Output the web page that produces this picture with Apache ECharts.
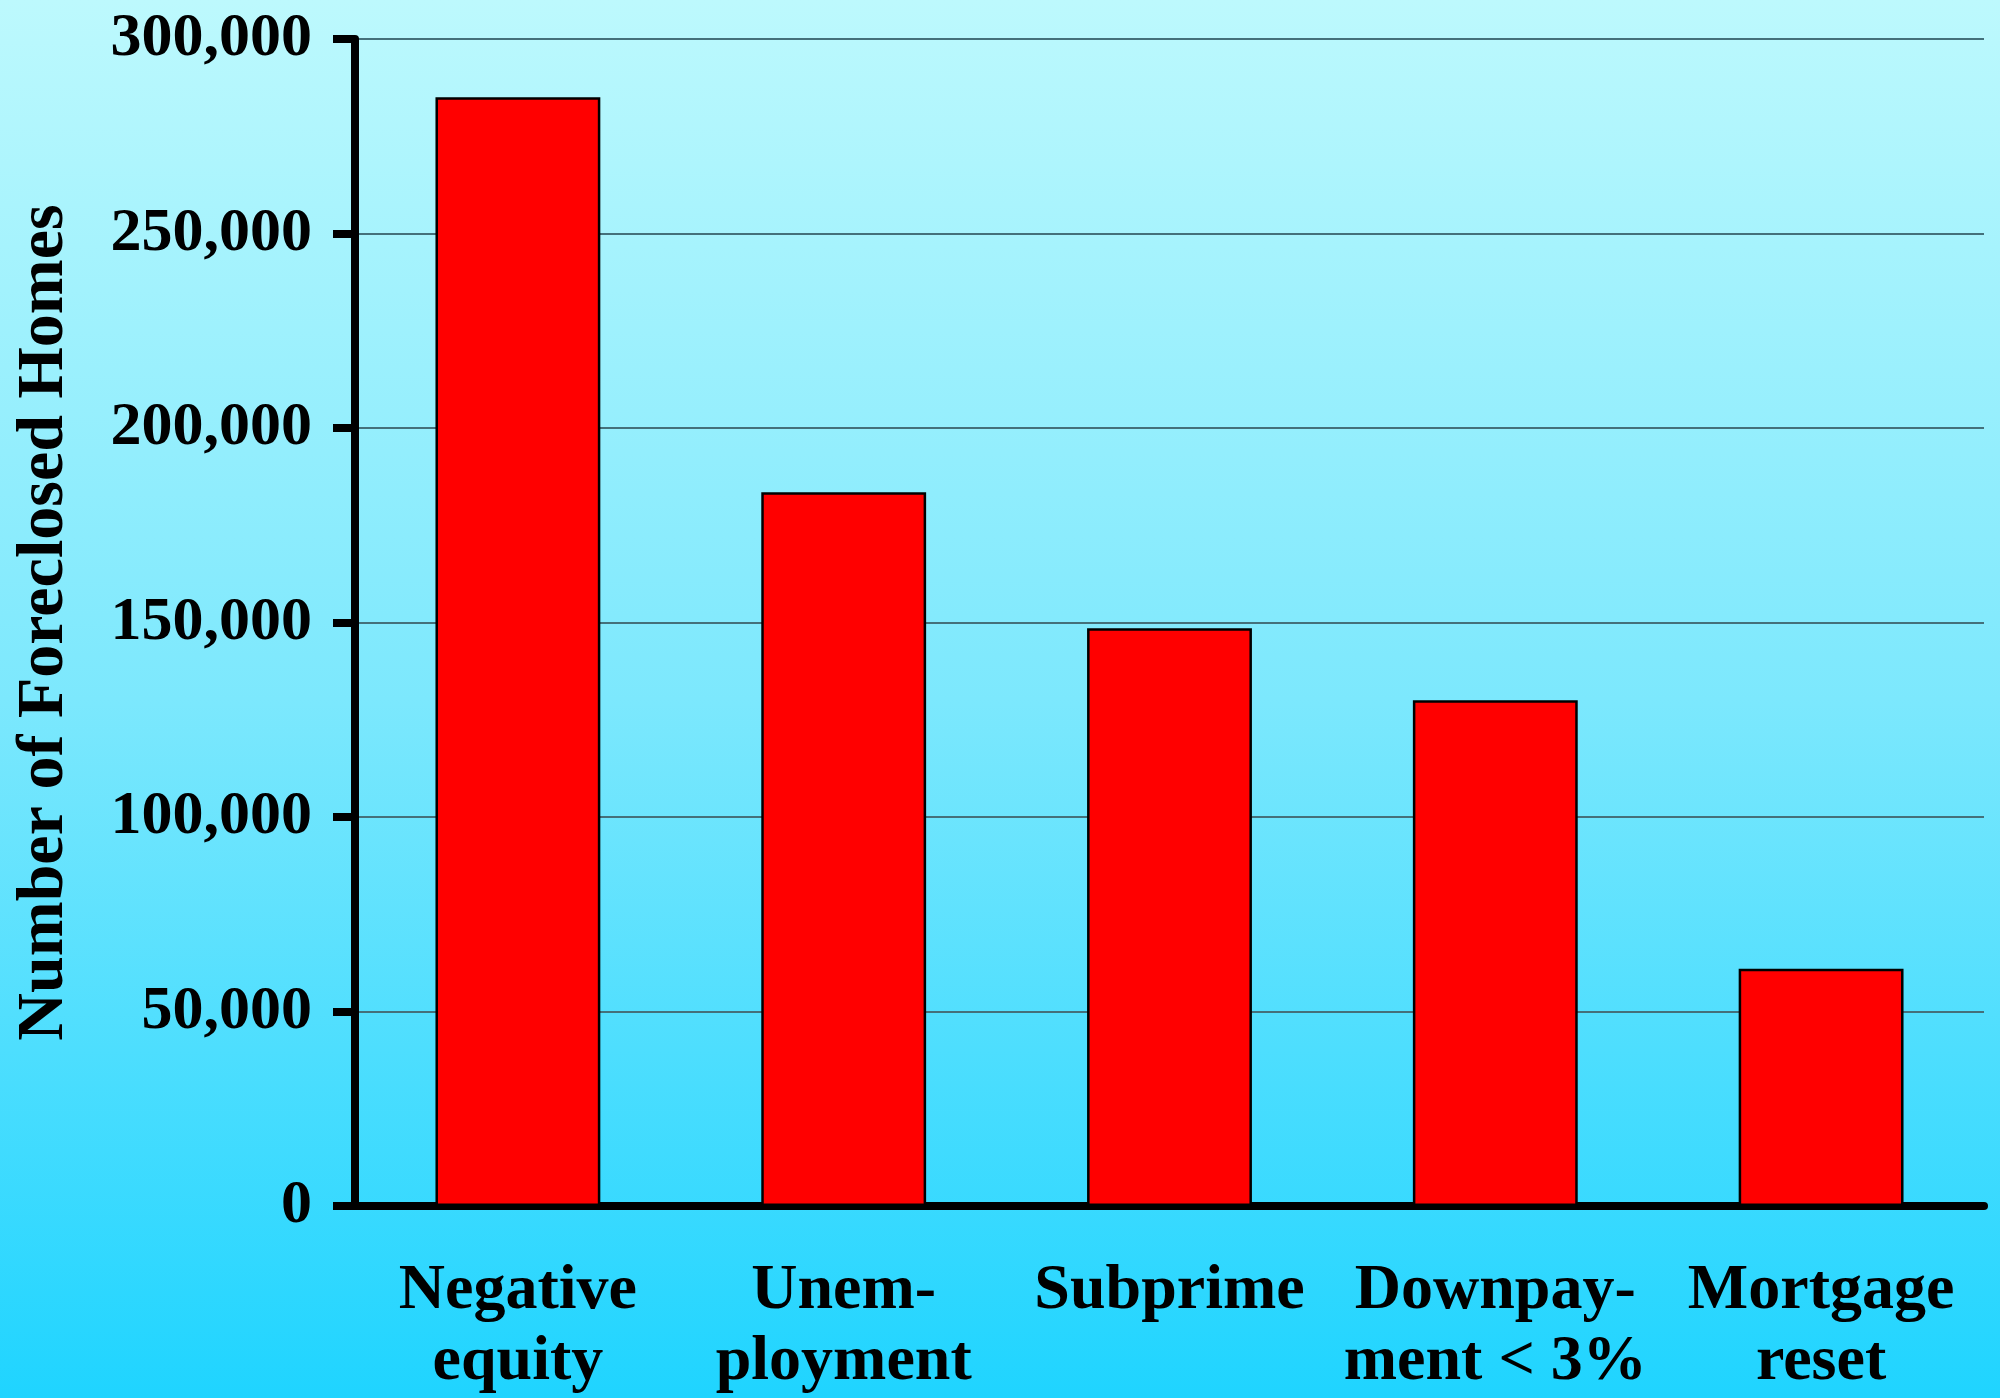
<!DOCTYPE html>
<html>
<head>
<meta charset="utf-8">
<title>Number of Foreclosed Homes</title>
<script src="https://cdn.jsdelivr.net/npm/echarts@6/dist/echarts.min.js"></script>
<style>
  html, body { margin: 0; padding: 0; width: 2000px; height: 1398px; overflow: hidden; }
  #chart { width: 2000px; height: 1398px; }
</style>
</head>
<body>
<div id="chart"></div>
<script>
// Foreclosed homes by main cause
const categories = ['Negative\nequity', 'Unem-\nployment', 'Subprime', 'Downpay-\nment < 3%', 'Mortgage\nreset'];
const foreclosures = [285000, 183500, 148500, 130000, 61000];
const yTicks = { min: 0, max: 300000, interval: 50000 };
const yAxisTitle = 'Number of Foreclosed Homes';

const FONT = '"Liberation Serif", "Times New Roman", serif';

const chart = echarts.init(document.getElementById('chart'), null, { renderer: 'canvas' });

chart.setOption({
  animation: false,
  backgroundColor: new echarts.graphic.LinearGradient(0, 0, 0, 1, [
    { offset: 0, color: '#bdf9fd' },
    { offset: 0.5, color: '#7ce8fd' },
    { offset: 1, color: '#1fd4ff' }
  ]),
  grid: { left: 355, right: 16, top: 39, bottom: 192, outerBoundsMode: 'none', containLabel: false },
  xAxis: {
    type: 'category',
    data: categories,
    axisLine: { show: true, lineStyle: { color: '#000', width: 8 } },
    axisTick: { show: false },
    axisLabel: {
      color: '#000',
      fontFamily: FONT,
      fontWeight: 'bold',
      fontSize: 64,
      lineHeight: 71,
      margin: 50,
      interval: 0
    },
    splitLine: { show: false }
  },
  yAxis: {
    type: 'value',
    min: yTicks.min,
    max: yTicks.max,
    interval: yTicks.interval,
    name: yAxisTitle,
    nameLocation: 'middle',
    nameGap: 277,
    nameRotate: 90,
    nameTextStyle: {
      color: '#000',
      fontFamily: FONT,
      fontWeight: 'bold',
      fontSize: 66
    },
    axisLine: { show: true, lineStyle: { color: '#000', width: 8 } },
    axisTick: { show: true, length: 22, lineStyle: { color: '#000', width: 8 } },
    axisLabel: {
      color: '#000',
      fontFamily: FONT,
      fontWeight: 'bold',
      fontSize: 62,
      margin: 43,
      formatter: v => v.toLocaleString('en-US')
    },
    splitLine: { show: true, lineStyle: { color: '#44707a', width: 2 } }
  },
  series: [{
    type: 'bar',
    data: foreclosures,
    barWidth: '50.6%',
    itemStyle: { color: '#ff0000', borderColor: '#000', borderWidth: 2.5 },
    z: 1
  }]
});
</script>
</body>
</html>
